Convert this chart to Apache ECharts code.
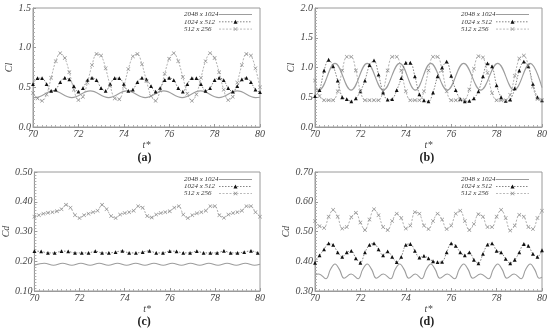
<!DOCTYPE html>
<html><head><meta charset="utf-8">
<script src="https://cdn.jsdelivr.net/npm/echarts@6/dist/echarts.min.js"></script>
<style>html,body{margin:0;padding:0;background:#fff}#c{width:550px;height:329px}</style>
</head><body><div id="c"></div>
<script>
// ---- data ----
const seriesNames = ['2048 x 1024', '1024 x 512', '512 x 256'];
const xTicks = [70, 72, 74, 76, 78, 80];
const T = [70.0,70.2,70.4,70.6,70.8,71.0,71.2,71.4,71.6,71.8,72.0,72.2,72.4,72.6,72.8,73.0,73.2,73.4,73.6,73.8,74.0,74.2,74.4,74.6,74.8,75.0,75.2,75.4,75.6,75.8,76.0,76.2,76.4,76.6,76.8,77.0,77.2,77.4,77.6,77.8,78.0,78.2,78.4,78.6,78.8,79.0,79.2,79.4,79.6,79.8,80.0];
const T30 = [70.0,70.3,70.6,70.9,71.2,71.5,71.8,72.1,72.4,72.7,73.0,73.3,73.6,73.9,74.2,74.5,74.8,75.1,75.4,75.7,76.0,76.3,76.6,76.9,77.2,77.5,77.8,78.1,78.4,78.7,79.0,79.3,79.6,79.9];

// (a) Cl
const a2048 = [[70.0,0.372],[70.1,0.37],[70.9,0.455],[71.71,0.37],[72.52,0.455],[73.33,0.37],[74.14,0.455],[74.95,0.37],[75.76,0.455],[76.57,0.37],[77.38,0.455],[78.19,0.37],[79.0,0.455],[79.81,0.37],[80.0,0.375]];
const a1024 = [.54,.615,.615,.54,.455,.47,.565,.62,.60,.515,.445,.49,.59,.62,.59,.49,.455,.54,.615,.615,.54,.455,.47,.565,.62,.60,.515,.445,.49,.59,.62,.59,.49,.445,.54,.615,.615,.54,.455,.49,.59,.62,.59,.49,.445,.515,.60,.62,.565,.47,.44];
const a512 = [.43,.36,.33,.41,.62,.83,.93,.87,.69,.47,.34,.38,.56,.78,.92,.90,.74,.52,.36,.35,.51,.73,.89,.92,.79,.58,.39,.33,.46,.67,.86,.93,.83,.63,.42,.33,.41,.62,.83,.93,.87,.69,.47,.34,.38,.56,.78,.92,.90,.74,.50];

// (b) Cl
const b2048 = [[70.0,0.64],[70.17,0.62],[70.88,1.07],[71.59,0.62],[72.3,1.07],[73.01,0.62],[73.73,1.07],[74.42,0.62],[75.1,1.07],[75.83,0.62],[76.55,1.07],[77.3,0.62],[78.05,1.07],[78.77,0.62],[79.48,1.07],[80.0,0.66]];
const b1024 = [.52,.62,.95,1.13,1.02,.78,.50,.47,.43,.48,.60,.78,1.04,1.12,.88,.58,.46,.47,.62,.82,1.08,1.08,.85,.55,.45,.43,.58,.85,1.0,1.1,.86,.62,.47,.43,.44,.48,.60,.85,1.07,1.02,.70,.50,.44,.46,.65,.95,1.10,1.02,.72,.50,.45];
const b512 = [.78,.52,.45,.45,.45,.60,.95,1.18,1.18,.95,.60,.45,.45,.45,.45,.60,.95,1.18,1.18,.95,.60,.45,.45,.45,.60,.95,1.18,1.18,.95,.60,.45,.45,.45,.46,.63,.98,1.19,1.17,.91,.57,.45,.45,.45,.54,.86,1.15,1.20,1.03,.68,.47,.45];

// (c) Cd
const c2048 = [[70.0,0.187],[70.44,0.1935],[70.85,0.1865],[71.25,0.1935],[71.66,0.1865],[72.06,0.1935],[72.47,0.1865],[72.87,0.1935],[73.28,0.1865],[73.68,0.1935],[74.09,0.1865],[74.49,0.1935],[74.9,0.1865],[75.3,0.1935],[75.71,0.1865],[76.11,0.1935],[76.52,0.1865],[76.92,0.1935],[77.33,0.1865],[77.73,0.1935],[78.14,0.1865],[78.54,0.1935],[78.95,0.1865],[79.35,0.1935],[79.76,0.1865],[80.0,0.19]];
const c1024 = [.234,.233,.228,.228,.234,.233,.228,.228,.228,.234,.228,.228,.231,.235,.228,.228,.231,.235,.228,.228,.234,.233,.228,.228,.234,.228,.228,.228,.235,.228,.228,.231,.235,.228];
const c512 = [.35,.355,.36,.363,.365,.368,.375,.39,.38,.355,.345,.355,.36,.365,.37,.39,.375,.352,.345,.357,.362,.365,.37,.385,.38,.352,.347,.357,.362,.365,.368,.38,.385,.357,.345,.355,.361,.365,.37,.385,.385,.355,.346,.357,.362,.365,.37,.385,.385,.365,.35];

// (d) Cd
const d2048 = [[70.0,0.356],[70.17,0.357],[70.48,0.341],[70.68,0.372],[70.88,0.391],[71.08,0.372],[71.28,0.343],[71.59,0.357],[71.9,0.341],[72.1,0.372],[72.3,0.391],[72.5,0.372],[72.7,0.343],[73.01,0.357],[73.33,0.341],[73.53,0.372],[73.73,0.391],[73.93,0.372],[74.13,0.343],[74.42,0.357],[74.7,0.341],[74.9,0.372],[75.1,0.391],[75.3,0.372],[75.5,0.343],[75.83,0.357],[76.15,0.341],[76.35,0.372],[76.55,0.391],[76.75,0.372],[76.95,0.343],[77.3,0.357],[77.65,0.341],[77.85,0.372],[78.05,0.391],[78.25,0.372],[78.45,0.343],[78.77,0.357],[79.08,0.341],[79.28,0.372],[79.48,0.391],[79.68,0.372],[79.88,0.343],[80.0,0.346]];
const d1024 = [.395,.42,.44,.46,.455,.43,.415,.43,.435,.41,.395,.43,.455,.46,.44,.42,.433,.415,.397,.415,.455,.458,.435,.412,.418,.41,.40,.397,.398,.43,.46,.452,.43,.42,.43,.405,.393,.425,.456,.46,.435,.43,.408,.393,.405,.43,.458,.452,.425,.415,.437];
const d512 = [.535,.518,.512,.55,.573,.55,.51,.515,.548,.563,.53,.505,.54,.575,.555,.515,.505,.535,.56,.545,.51,.52,.565,.56,.52,.508,.535,.56,.54,.508,.52,.56,.57,.535,.505,.525,.558,.55,.515,.515,.55,.573,.545,.503,.52,.556,.55,.515,.508,.545,.57];

// ---- chart ----
const FONT = '"Liberation Serif","DejaVu Serif",serif';
const pair = (xs, ys) => xs.map((x, i) => [x, ys[i]]);
const XMARK = 'path://M0,1L1,0L5,4L9,0L10,1L6,5L10,9L9,10L5,6L1,10L0,9L4,5Z';
const SOLIDICON = 'path://M0,0L40,0L40,1.3L0,1.3Z';

const panels = [
  {left:33,  top:8,   yMin:0,   yMax:1.5, yInt:0.5, dec:1, yName:'Cl', nGap:8, tag:'(a)', lg:{left:184, top:11, lh:8.5, gap:0.3},
   data:[a2048, pair(T, a1024), pair(T, a512)]},
  {left:315, top:8,   yMin:0,   yMax:2.0, yInt:0.5, dec:1, yName:'Cl', nGap:13, tag:'(b)', lg:{left:461, top:11, lh:8.5, gap:0.3},
   data:[b2048, pair(T, b1024), pair(T, b512)]},
  {left:33,  top:172, yMin:0.1, yMax:0.5, yInt:0.1, dec:2, yName:'Cd', nGap:8, tag:'(c)', lg:{left:184, top:176, lh:6.8, gap:0},
   data:[c2048, pair(T30, c1024), pair(T, c512)]},
  {left:315, top:172, yMin:0.3, yMax:0.7, yInt:0.1, dec:2, yName:'Cd', nGap:15, tag:'(d)', lg:{left:461, top:176, lh:7.2, gap:0},
   data:[d2048, pair(T, d1024), pair(T, d512)]}
];
const W = 227, H = 119;

const option = {
  animation: false,
  backgroundColor: '#fff',
  grid: [], xAxis: [], yAxis: [], series: [], legend: [], graphic: []
};

panels.forEach((p, i) => {
  option.grid.push({left: p.left, top: p.top, width: W, height: H, show: true, borderColor: '#9a9a9a', borderWidth: 1, backgroundColor: 'transparent'});
  option.xAxis.push({
    type: 'value', gridIndex: i, min: xTicks[0], max: xTicks[xTicks.length - 1], interval: 2,
    name: 't*', nameLocation: 'middle', nameGap: 7,
    nameTextStyle: {fontFamily: FONT, fontStyle: 'italic', fontSize: 10, color: '#444'},
    axisLine: {show: true, lineStyle: {color: '#9a9a9a', width: 1}},
    axisTick: {show: true, inside: true, length: 3, lineStyle: {color: '#9a9a9a'}},
    minorTick: {show: true, splitNumber: 10, length: 2, lineStyle: {color: '#b0b0b0'}},
    splitLine: {show: false},
    axisLabel: {fontFamily: FONT, fontStyle: 'italic', fontSize: 10, color: '#444', margin: 2}
  });
  option.yAxis.push({
    type: 'value', gridIndex: i, min: p.yMin, max: p.yMax, interval: p.yInt,
    name: p.yName, nameLocation: 'middle', nameGap: p.nGap, nameRotate: 90,
    nameTextStyle: {fontFamily: FONT, fontStyle: 'italic', fontSize: 10, color: '#444'},
    axisLine: {show: true, lineStyle: {color: '#9a9a9a', width: 1}},
    axisTick: {show: true, inside: true, length: 3, lineStyle: {color: '#9a9a9a'}},
    minorTick: {show: true, splitNumber: 10, length: 2, lineStyle: {color: '#b0b0b0'}},
    splitLine: {show: false},
    axisLabel: {fontFamily: FONT, fontStyle: 'italic', fontSize: 10, color: '#444', margin: 2,
      formatter: v => v.toFixed(p.dec)}
  });
  option.series.push(
    {name: seriesNames[0], type: 'line', xAxisIndex: i, yAxisIndex: i, data: p.data[0], smooth: 0.4,
     symbol: 'none', showSymbol: false, lineStyle: {color: '#9d9d9d', width: 1.1}, itemStyle: {color: '#9d9d9d'}},
    {name: seriesNames[1], type: 'line', xAxisIndex: i, yAxisIndex: i, data: p.data[1], smooth: 0.35,
     symbol: 'triangle', symbolSize: 3.8, showSymbol: true,
     lineStyle: {color: '#666', width: 0.8, type: [1.5, 1.5]}, itemStyle: {color: '#111'}},
    {name: seriesNames[2], type: 'line', xAxisIndex: i, yAxisIndex: i, data: p.data[2], smooth: 0.35,
     symbol: XMARK, symbolSize: 4, showSymbol: true,
     lineStyle: {color: '#a8a8a8', width: 0.9, type: [2, 1.5]}, itemStyle: {color: '#8a8a8a'}}
  );
  option.legend.push({
    data: [{name: seriesNames[0], icon: SOLIDICON}, seriesNames[1], seriesNames[2]],
    orient: 'vertical', align: 'right', left: p.lg.left, top: p.lg.top,
    itemWidth: 33, itemHeight: 5, itemGap: p.lg.gap, padding: 0, selectedMode: false,
    lineStyle: {width: 0.8},
    formatter: n => '{t|' + n + '}',
    textStyle: {fontFamily: FONT, fontStyle: 'italic', fontSize: 7, color: '#333',
      rich: {t: {width: 30, align: 'left', fontFamily: FONT, fontStyle: 'italic', fontSize: 7, lineHeight: p.lg.lh, color: '#333'}}}
  });
  option.graphic.push({type: 'text', left: p.left + W / 2 - 9, top: p.top + H + 25,
    style: {text: p.tag, font: 'bold 12px ' + FONT, fill: '#222'}});
});

const chart = echarts.init(document.getElementById('c'), null, {renderer: 'canvas'});
chart.setOption(option);
</script>
</body></html>
